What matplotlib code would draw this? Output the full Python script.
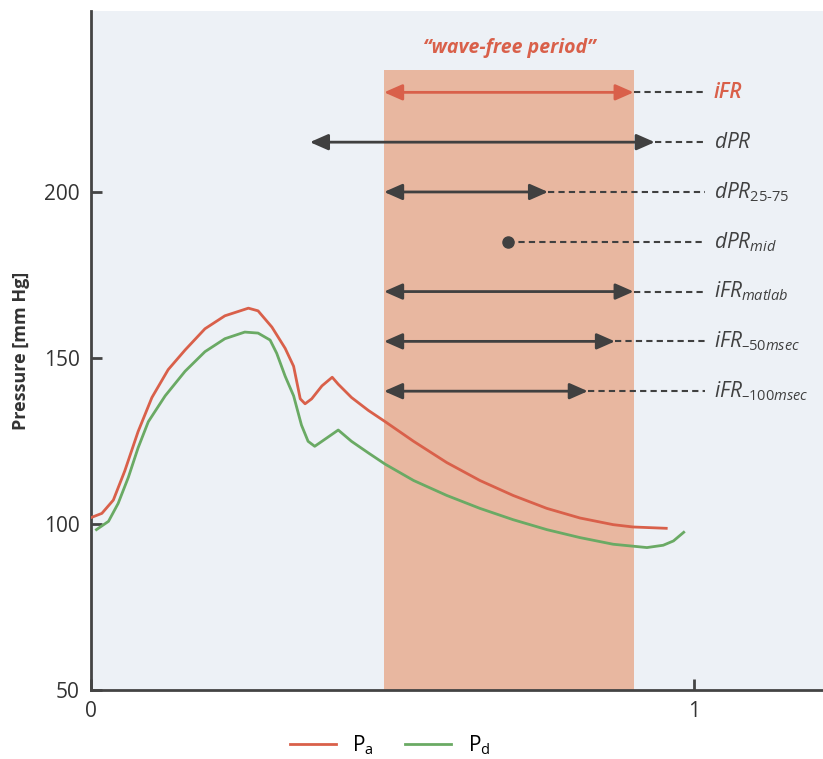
import matplotlib.pyplot as plt

plt.rcParams['font.family'] = 'Open Sans'
plt.rcParams['mathtext.fontset'] = 'custom'
plt.rcParams['mathtext.rm'] = 'Open Sans'
plt.rcParams['mathtext.it'] = 'Open Sans:italic'

# pressure curves over one beat
pa_t = [0.001, 0.018, 0.037, 0.056, 0.078, 0.101, 0.128, 0.156, 0.189, 0.222, 0.261, 0.277,
        0.300, 0.322, 0.336, 0.347, 0.355, 0.366, 0.383, 0.400, 0.410, 0.432, 0.460, 0.488,
        0.535, 0.590, 0.645, 0.700, 0.756, 0.811, 0.866, 0.899, 0.954]
pa = [102.0, 103.2, 107.2, 116.0, 127.8, 138.1, 146.5, 152.4, 158.8, 162.7, 165.0, 164.2,
      159.3, 152.9, 147.5, 137.7, 136.2, 137.7, 141.6, 144.2, 142.1, 138.1, 134.2, 130.8,
      124.9, 118.5, 113.1, 108.6, 104.7, 101.8, 99.8, 99.1, 98.7]

pd_t = [0.009, 0.029, 0.045, 0.062, 0.078, 0.095, 0.123, 0.156, 0.189, 0.222, 0.255, 0.277,
        0.297, 0.308, 0.322, 0.336, 0.349, 0.360, 0.371, 0.383, 0.410, 0.432, 0.460, 0.488,
        0.535, 0.590, 0.645, 0.700, 0.756, 0.811, 0.866, 0.922, 0.949, 0.966, 0.983]
pd = [98.3, 100.8, 106.2, 114.1, 122.9, 130.8, 138.6, 146.0, 151.9, 155.8, 157.8, 157.5,
      155.4, 151.4, 144.5, 138.6, 129.8, 124.9, 123.4, 124.9, 128.3, 124.9, 121.4, 118.0,
      113.1, 108.6, 104.7, 101.3, 98.3, 95.9, 93.9, 92.9, 93.6, 94.9, 97.5]

# wave-free period window
wfp_start = 0.486
wfp_end = 0.900
wfp_top = 236.6

# index rows: main label, subscript, y level, start, end
mains = ['iFR', 'dPR', 'dPR', 'dPR', 'iFR', 'iFR', 'iFR']
subs = ['', '', '25\u201075', 'mid', 'matlab', '\u201350msec', '\u2013100msec']
rows_y = [230, 215, 200, 185, 170, 155, 140]
starts = [0.486, 0.363, 0.486, 0.692, 0.486, 0.486, 0.486]
ends = [0.900, 0.935, 0.758, 0.692, 0.900, 0.869, 0.824]

red = '#d9604a'
green = '#6aaa64'
dark = '#404040'

fig = plt.figure(figsize=(8.23, 7.59), dpi=100)
ax = fig.add_axes([0.1106, 0.0909, 0.8894, 0.8946])
ax.set_facecolor('#edf1f6')

ax.fill_between([wfp_start, wfp_end], 0, wfp_top, color='#e8b7a0', zorder=1, lw=0)
ax.text((wfp_start + wfp_end) / 2, 243.5, '\u201cwave-free period\u201d', color=red,
        fontsize=14, fontweight='bold', style='italic', ha='center', va='center')

ax.plot(pa_t, pa, color=red, lw=2, label=r'$\mathregular{P_a}$', zorder=3,
        solid_joinstyle='round')
ax.plot(pd_t, pd, color=green, lw=2, label=r'$\mathregular{P_d}$', zorder=3,
        solid_joinstyle='round')

x_dash_end = 1.018
x_label = 1.033
for i, (main, sub, y, s, e) in enumerate(zip(mains, subs, rows_y, starts, ends)):
    c = red if i == 0 else dark
    if s == e:
        ax.plot(s, y, 'o', color=dark, ms=8, zorder=4)
    else:
        ax.annotate('', xy=(e, y), xytext=(s, y),
                    arrowprops=dict(arrowstyle='<|-|>,head_length=0.5,head_width=0.22',
                                    color=c, lw=2, mutation_scale=22,
                                    shrinkA=0, shrinkB=0), zorder=4)
    ax.plot([e, x_dash_end], [y, y], color=dark, lw=1.5, ls=(0, (3, 2)), zorder=3)
    if i == 0:
        ax.text(x_label, y, main, color=c, fontsize=15, style='italic',
                fontweight='semibold', ha='left', va='center')
    elif sub:
        ax.text(x_label, y, r'$\mathit{%s}_{\mathit{%s}}$' % (main, sub),
                color=c, fontsize=15, ha='left', va='center')
    else:
        ax.text(x_label, y, r'$\mathit{%s}$' % main, color=c, fontsize=15,
                ha='left', va='center')

ax.set_xlim(0, 1.214)
ax.set_ylim(50, 254.5)
ax.set_xticks([0, 1])
ax.set_yticks([50, 100, 150, 200])
ax.spines['top'].set_visible(False)
ax.spines['right'].set_visible(False)
for sp in ['left', 'bottom']:
    ax.spines[sp].set_color('#444444')
    ax.spines[sp].set_linewidth(2)
ax.tick_params(direction='in', length=8, width=2, color='#444444',
               labelsize=15, labelcolor='#333333', pad=8)
ax.set_ylabel('Pressure [mm Hg]', fontsize=13, fontweight='bold', color='#333333', labelpad=10)

fig.legend(loc='center', bbox_to_anchor=(0.474, 0.018), ncol=2, frameon=False,
           fontsize=15, handlelength=2.2, columnspacing=1.5)

fig.savefig('out.png')
